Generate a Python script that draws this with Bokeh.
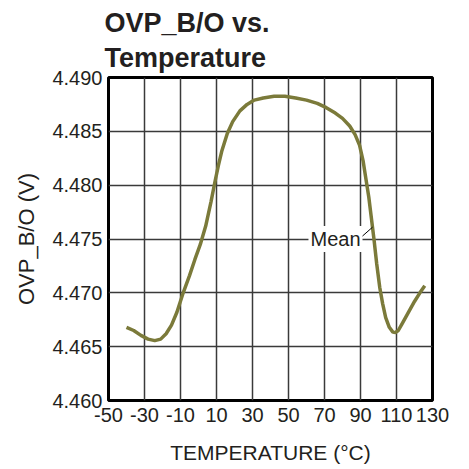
from bokeh.plotting import figure
from bokeh.models import Label, FixedTicker, NumeralTickFormatter, Range1d
from bokeh.embed import file_html
from bokeh.resources import INLINE

# Data
temp = [-40, -36, -32, -28, -24.3, -21, -18, -15, -12, -8.5, -5, -2, 1, 4, 7, 9, 11, 13, 16, 19,
        23, 27, 31, 36, 42, 48, 54, 60, 66, 71, 76, 80, 84, 87, 89.5, 91.5, 93, 94.6, 96, 97.4,
        99, 100.7, 102.3, 104, 106, 108, 109.4, 111, 113, 116, 120, 123, 125.7]
vout = [4.4668, 4.4665, 4.46605, 4.4657, 4.46556, 4.4657, 4.4662, 4.4670, 4.4682, 4.4700,
        4.4716, 4.4731, 4.4745, 4.4762, 4.4785, 4.4802, 4.4818, 4.4832, 4.4848, 4.4859,
        4.4869, 4.4875, 4.4879, 4.4881, 4.48825, 4.48825, 4.4881, 4.4879, 4.4876, 4.4872,
        4.4867, 4.4862, 4.4855, 4.4847, 4.4837, 4.4822, 4.4806, 4.4789, 4.4770, 4.4751,
        4.4727, 4.4705, 4.4690, 4.4677, 4.4668, 4.46635, 4.46632, 4.4665, 4.4671, 4.4680,
        4.4692, 4.4700, 4.47065]
x_ticks = [-50, -30, -10, 10, 30, 50, 70, 90, 110, 130]
y_ticks = [4.460, 4.465, 4.470, 4.475, 4.480, 4.485, 4.490]
title_text = "OVP_B/O vs.\nTemperature"
series_label = "Mean"

FONT = "Liberation Sans"
LINE_COLOR = "#7b7a3a"
TXT = "#231f20"

p = figure(width=461, height=469, output_backend="svg", toolbar_location=None,
           x_range=Range1d(-50, 130), y_range=Range1d(4.460, 4.490),
           min_border_left=108, min_border_right=29, min_border_top=76, min_border_bottom=69)

p.outline_line_color = "black"
p.outline_line_width = 3
p.background_fill_color = "white"

for ax in (p.xaxis[0], p.yaxis[0]):
    ax.axis_line_color = None
    ax.major_tick_line_color = None
    ax.minor_tick_line_color = None
    ax.major_tick_in = 0
    ax.major_tick_out = 0
    ax.major_label_text_font = FONT
    ax.major_label_text_font_size = "20px"
    ax.major_label_text_color = TXT
    ax.axis_label_text_font = FONT
    ax.axis_label_text_font_style = "normal"
    ax.axis_label_text_color = TXT

p.xaxis.axis_label_text_font_size = "21px"
p.yaxis.axis_label_text_font_size = "22px"
p.xaxis.ticker = FixedTicker(ticks=x_ticks)
p.yaxis.ticker = FixedTicker(ticks=y_ticks)
p.xaxis.formatter = NumeralTickFormatter(format="0")
p.yaxis.formatter = NumeralTickFormatter(format="0.000")
p.xaxis.major_label_standoff = 7
p.yaxis.major_label_standoff = 6
p.xaxis.axis_label = "TEMPERATURE (\u00b0C)"
p.yaxis.axis_label = "OVP_B/O (V)"
p.xaxis.axis_label_standoff = 16
p.yaxis.axis_label_standoff = 10

p.xgrid.ticker = FixedTicker(ticks=x_ticks)
p.ygrid.ticker = FixedTicker(ticks=y_ticks)
for g in (p.xgrid[0], p.ygrid[0]):
    g.grid_line_color = "#3a3a3a"
    g.grid_line_width = 1.5

p.line(temp, vout, line_color=LINE_COLOR, line_width=3.5)

# Mean annotation
lbl = Label(x=90, y=4.475, text=series_label, text_align="right", text_baseline="middle",
            text_font=FONT, text_font_size="20px", text_color=TXT,
            background_fill_color="white", x_offset=2, padding=2)
p.add_layout(lbl)
p.segment(x0=[90.6], y0=[4.4752], x1=[96.7], y1=[4.4761], line_color="black", line_width=1)

# Title
p.title.text = title_text
p.title.text_font = FONT
p.title.text_font_style = "bold"
p.title.text_font_size = "27px"
p.title.text_line_height = 1.15
p.title.text_color = TXT
p.title.align = "left"
p.title.offset = -4
p.title.standoff = 10

open("out.html", "w").write(file_html(p, INLINE))
